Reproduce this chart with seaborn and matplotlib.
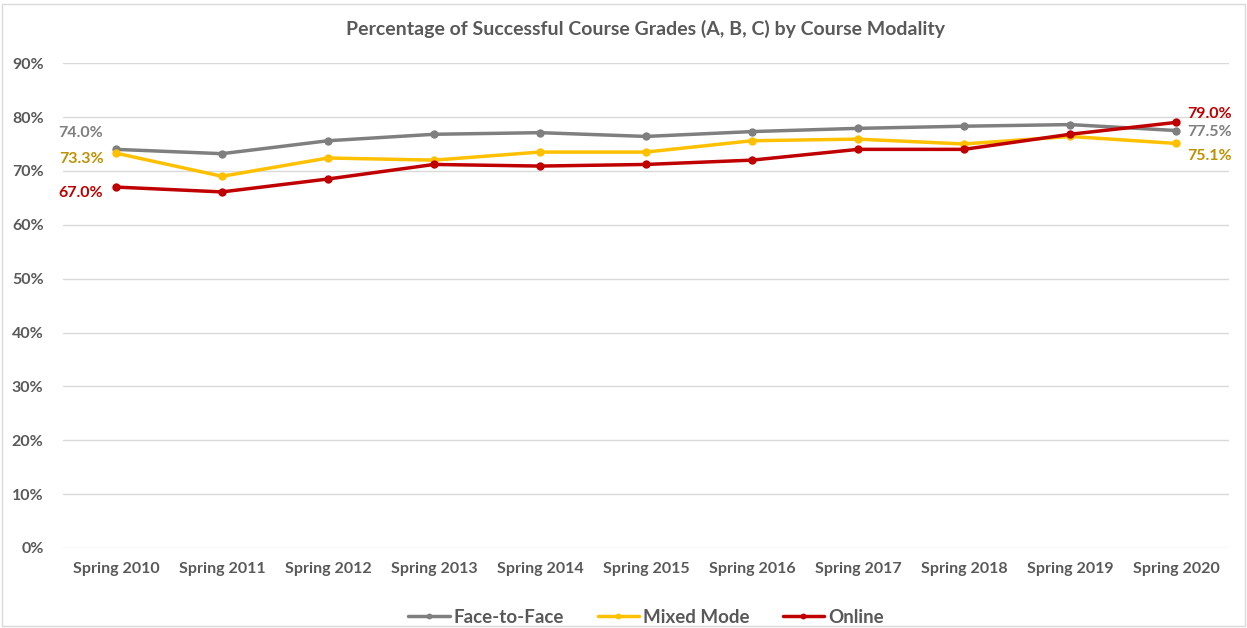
import pandas as pd
import matplotlib
matplotlib.use('Agg')
import matplotlib.pyplot as plt
import seaborn as sns
from matplotlib.ticker import PercentFormatter

# Data
terms = ['Spring 2010', 'Spring 2011', 'Spring 2012', 'Spring 2013', 'Spring 2014', 'Spring 2015',
         'Spring 2016', 'Spring 2017', 'Spring 2018', 'Spring 2019', 'Spring 2020']
face_to_face = [74.0, 73.2, 75.6, 76.8, 77.1, 76.4, 77.3, 77.9, 78.3, 78.6, 77.5]
mixed_mode = [73.3, 69.0, 72.4, 72.0, 73.5, 73.5, 75.6, 75.9, 75.0, 76.4, 75.1]
online = [67.0, 66.1, 68.5, 71.2, 70.9, 71.2, 72.0, 74.0, 74.0, 76.8, 79.0]

series_names = ['Face-to-Face', 'Mixed Mode', 'Online']
line_colors = ['#7F7F7F', '#FFC000', '#C00000']
label_colors = ['#7F7F7F', '#BF9000', '#C00000']

df = pd.DataFrame({'term': terms * 3,
                   'value': face_to_face + mixed_mode + online,
                   'modality': [n for n in series_names for _ in terms]})
df['value'] = df['value'] / 100

sns.set_style('white')
plt.rcParams['font.family'] = ['Lato', 'DejaVu Sans']

fig = plt.figure(figsize=(12.47, 6.28), dpi=100)
ax = fig.add_axes([0.0505, 0.1274, 0.935, 0.772])

sns.lineplot(data=df, x='term', y='value', hue='modality', palette=line_colors,
             marker='o', markersize=6, markeredgewidth=0, linewidth=2.5, sort=False, ax=ax)

ax.set_xlim(-0.5, len(terms) - 0.5)
ax.set_ylim(0, 0.9)
ax.set_yticks([i / 10 for i in range(10)])
ax.yaxis.set_major_formatter(PercentFormatter(1.0, decimals=0))
ax.grid(axis='y', color='#D9D9D9', linewidth=1)
ax.set_axisbelow(True)
for s in ax.spines.values():
    s.set_visible(False)
ax.tick_params(axis='both', length=0, labelsize=11.5, labelcolor='#595959', pad=10)
for lbl in ax.get_xticklabels() + ax.get_yticklabels():
    lbl.set_fontweight('bold')
ax.yaxis.set_tick_params(pad=14)
ax.set_xlabel('')
ax.set_ylabel('')

ax.set_title('Percentage of Successful Course Grades (A, B, C) by Course Modality',
             fontsize=14, fontweight='bold', color='#595959', pad=20)

# end labels (offsets in points)
all_vals = [face_to_face, mixed_mode, online]
left_offsets = [(-9, 12), (-9, -4), (-9, -4)]
right_offsets = [(8, -1), (8, -9), (8, 6)]
for vals, col, lo, ro in zip(all_vals, label_colors, left_offsets, right_offsets):
    ax.annotate(f'{vals[0]:.1f}%', (0, vals[0] / 100), xytext=lo, textcoords='offset points',
                ha='right', va='center', color=col, fontsize=11.5, fontweight='bold')
    ax.annotate(f'{vals[-1]:.1f}%', (len(terms) - 1, vals[-1] / 100), xytext=ro,
                textcoords='offset points', ha='left', va='center', color=col,
                fontsize=11.5, fontweight='bold')

leg = ax.legend(loc='upper center', bbox_to_anchor=(0.5, -0.09), ncol=3, frameon=False,
                fontsize=13.5, handlelength=2.2, columnspacing=1.8, handletextpad=0.2,
                markerscale=0.7)
for t in leg.get_texts():
    t.set_color('#595959')
    t.set_fontweight('bold')

fig.patches.append(plt.Rectangle((0.002, 0.003), 0.996, 0.99, transform=fig.transFigure,
                                 fill=False, edgecolor='#D9D9D9', linewidth=1))

fig.savefig('out.png', dpi=100)
